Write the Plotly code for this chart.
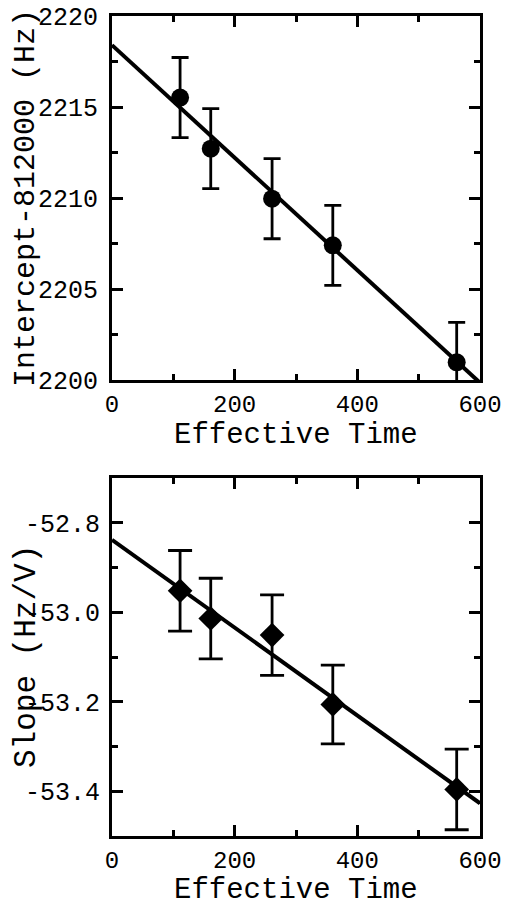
import plotly.graph_objects as go
from plotly.subplots import make_subplots

# ---- data ----
effective_time = [111, 161, 261, 360, 562]
intercept = [2215.52, 2212.71, 2209.96, 2207.40, 2200.97]
intercept_err = [2.2, 2.2, 2.2, 2.2, 2.2]
slope = [-52.952, -53.014, -53.051, -53.206, -53.396]
slope_err = [0.09, 0.09, 0.09, 0.088, 0.09]

fit_time = [0, 600]
intercept_fit = [2218.4, 2199.85]
slope_fit = [-52.838, -53.427]

x_ticks = [0, 200, 400, 600]
x_tick_labels = ["0", "200", "400", "600"]
intercept_ticks = [2200, 2205, 2210, 2215, 2220]
intercept_tick_labels = ["2200", "2205", "2210", "2215", "2220"]
slope_ticks = [-53.4, -53.2, -53.0, -52.8]
slope_tick_labels = ["-53.4", "-53.2", "-53.0", "-52.8"]

FONT = "Liberation Mono, Courier New, monospace"
BLACK = "#000000"

W, H = 508, 909
M_L, M_R, M_T, M_B = 112, 28, 16, 73
PLOT_H = H - M_T - M_B
BOT_AXIS_PX = H - M_B
TOP_DOM = [(BOT_AXIS_PX - 380) / PLOT_H, 1.0]
BOT_DOM = [0.0, (BOT_AXIS_PX - 478) / PLOT_H]

fig = make_subplots(rows=2, cols=1, vertical_spacing=0.1)

# top panel
fig.add_trace(go.Scatter(x=fit_time, y=intercept_fit, mode="lines",
                         line=dict(color=BLACK, width=4), showlegend=False),
              row=1, col=1)
fig.add_trace(go.Scatter(x=effective_time, y=intercept, mode="markers",
                         marker=dict(symbol="circle", size=18, color=BLACK),
                         error_y=dict(type="data", array=intercept_err, color=BLACK,
                                      thickness=2.8, width=8.5),
                         cliponaxis=False, showlegend=False),
              row=1, col=1)

# bottom panel
fig.add_trace(go.Scatter(x=fit_time, y=slope_fit, mode="lines",
                         line=dict(color=BLACK, width=4), showlegend=False),
              row=2, col=1)
fig.add_trace(go.Scatter(x=effective_time, y=slope, mode="markers",
                         marker=dict(symbol="diamond", size=19, color=BLACK),
                         error_y=dict(type="data", array=slope_err, color=BLACK,
                                      thickness=2.8, width=12),
                         cliponaxis=False, showlegend=False),
              row=2, col=1)

axis_common = dict(showline=True, linecolor=BLACK, linewidth=3, mirror="allticks",
                   ticks="inside", ticklen=11, tickwidth=2.5, tickcolor=BLACK,
                   showgrid=False, zeroline=False,
                   tickfont=dict(family=FONT, size=25, color=BLACK))

xaxis_kw = dict(axis_common, range=[0, 600], tickvals=x_ticks, ticktext=x_tick_labels,
                ticklabelstandoff=0, tickfont=dict(family=FONT, size=24, color=BLACK),
                minor=dict(dtick=100, ticks="inside", ticklen=6, tickwidth=2.5,
                           tickcolor=BLACK, showgrid=False))

fig.update_xaxes(**xaxis_kw, domain=[0, 1], row=1, col=1)
fig.update_xaxes(**xaxis_kw, domain=[0, 1], row=2, col=1)

fig.update_yaxes(**axis_common, range=[2200, 2220], tickvals=intercept_ticks,
                 ticktext=intercept_tick_labels, ticklabelstandoff=6,
                 minor=dict(dtick=2.5, tick0=2200, ticks="inside", ticklen=6,
                            tickwidth=2.5, tickcolor=BLACK, showgrid=False),
                 domain=TOP_DOM, row=1, col=1)
fig.update_yaxes(**axis_common, range=[-53.5, -52.7], tickvals=slope_ticks,
                 ticktext=slope_tick_labels, ticklabelstandoff=4,
                 minor=dict(dtick=0.1, tick0=-53.5, ticks="inside", ticklen=6,
                            tickwidth=2.5, tickcolor=BLACK, showgrid=False),
                 domain=BOT_DOM, row=2, col=1)

title_x = -(M_L - 26) / (W - M_L - M_R)
fig.add_annotation(text="Intercept-812000 (Hz)", textangle=-90,
                   xref="paper", yref="paper", x=title_x, y=sum(TOP_DOM) / 2,
                   xanchor="center", yanchor="middle", showarrow=False,
                   font=dict(family=FONT, size=30, color=BLACK))
fig.add_annotation(text="Slope (Hz/V)", textangle=-90,
                   xref="paper", yref="paper", x=title_x, y=sum(BOT_DOM) / 2,
                   xanchor="center", yanchor="middle", showarrow=False,
                   font=dict(family=FONT, size=31, color=BLACK))

# x-axis titles (placed below the tick labels of each panel)
fig.add_annotation(text="Effective Time", xref="paper", yref="paper",
                   x=0.5, y=TOP_DOM[0] - (454 - 380) / PLOT_H,
                   xanchor="center", yanchor="bottom", showarrow=False,
                   font=dict(family=FONT, size=29, color=BLACK))
fig.add_annotation(text="Effective Time", xref="paper", yref="paper",
                   x=0.5, y=BOT_DOM[0] - (H - BOT_AXIS_PX) / PLOT_H,
                   xanchor="center", yanchor="bottom", showarrow=False,
                   font=dict(family=FONT, size=29, color=BLACK))

fig.update_layout(width=W, height=H,
                  margin=dict(l=M_L, r=M_R, t=M_T, b=M_B, autoexpand=False),
                  paper_bgcolor="white", plot_bgcolor="white",
                  font=dict(family=FONT, color=BLACK))

fig.write_html("out.html",
               config={"displayModeBar": False},
               post_script="document.body.style.margin='0px';"
                           "document.body.style.overflow='hidden';")
